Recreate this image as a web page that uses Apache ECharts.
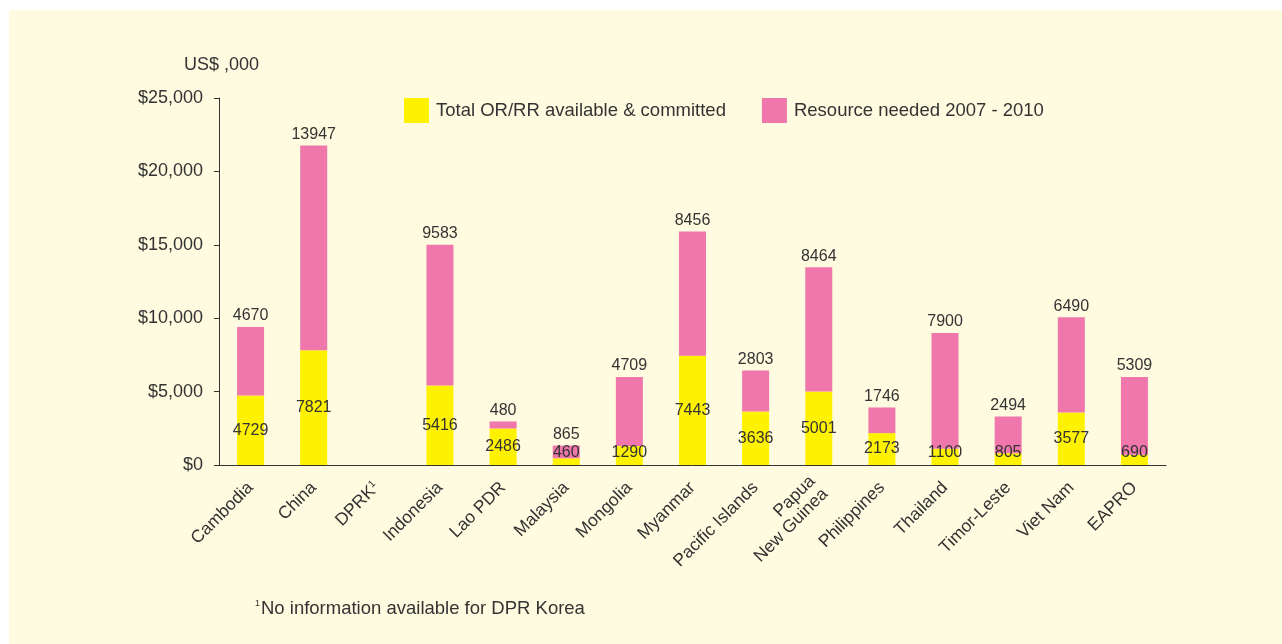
<!DOCTYPE html>
<html>
<head>
<meta charset="utf-8">
<script src="https://cdn.jsdelivr.net/npm/echarts@6/dist/echarts.min.js"></script>
<style>
  html, body { margin: 0; padding: 0; background: #ffffff; }
  #main { width: 1282px; height: 644px; }
</style>
</head>
<body>
<div id="main"></div>
<script>
// data
var countries = ["Cambodia", "China", "DPRK", "Indonesia", "Lao PDR", "Malaysia", "Mongolia",
  "Myanmar", "Pacific Islands", "Papua\nNew Guinea", "Philippines", "Thailand",
  "Timor-Leste", "Viet Nam", "EAPRO"];
var available = [4729, 7821, null, 5416, 2486, 460, 1290, 7443, 3636, 5001, 2173, 1100, 805, 3577, 690];
var needed = [4670, 13947, null, 9583, 480, 865, 4709, 8456, 2803, 8464, 1746, 7900, 2494, 6490, 5309];
var yTicks = [0, 5000, 10000, 15000, 20000, 25000];

var textColor = "#333333";
var font = "'Liberation Sans', Arial, sans-serif";

var myChart = echarts.init(document.getElementById("main"));

var option = {
  backgroundColor: "#ffffff",
  textStyle: { fontFamily: font, color: textColor },
  graphic: [
    {
      type: "rect",
      z: -10,
      silent: true,
      shape: { x: 9, y: 10, width: 1300, height: 700 },
      style: { fill: "#fffbe0" }
    }
  ],
  title: [
    {
      text: "US$ ,000",
      left: 179,
      top: 51,
      textStyle: { fontSize: 18, fontWeight: "normal", color: textColor, fontFamily: font }
    },
    {
      text: "{s|1}No information available for DPR Korea",
      left: 250,
      top: 594,
      textStyle: {
        fontSize: 18.5, fontWeight: "normal", color: textColor, fontFamily: font,
        rich: {
          s: { fontSize: 9, verticalAlign: "top", padding: [0, 1, 9, 0], color: textColor, fontFamily: font }
        }
      }
    }
  ],
  legend: {
    left: 399,
    top: 93,
    itemWidth: 25,
    itemHeight: 25,
    itemGap: 36,
    icon: "rect",
    textStyle: { fontSize: 18.5, color: textColor, fontFamily: font, padding: [0, 0, 0, 2] },
    data: ["Total OR/RR available & committed", "Resource needed 2007 - 2010"]
  },
  grid: { left: 219, right: 116, top: 98, bottom: 179, containLabel: false },
  xAxis: {
    type: "category",
    data: countries,
    axisLine: { lineStyle: { color: textColor, width: 1 } },
    axisTick: { interval: 0, length: 6, lineStyle: { color: textColor } },
    axisLabel: {
      interval: 0,
      rotate: 45,
      margin: 20,
      fontSize: 17.5,
      lineHeight: 18,
      color: textColor,
      fontFamily: font,
      formatter: function (v) {
        return v === "DPRK" ? "DPRK{s|1}" : v;
      },
      rich: {
        s: { fontSize: 10, verticalAlign: "top", padding: [0, 0, 8, 0], color: textColor, fontFamily: font }
      }
    }
  },
  yAxis: {
    type: "value",
    min: yTicks[0],
    max: yTicks[yTicks.length - 1],
    interval: yTicks[1] - yTicks[0],
    splitLine: { show: false },
    axisLine: { show: true, lineStyle: { color: textColor, width: 1 } },
    axisTick: { show: true, length: 5, lineStyle: { color: textColor } },
    axisLabel: {
      fontSize: 18,
      margin: 16,
      color: textColor,
      fontFamily: font,
      formatter: function (v) {
        return "$" + v.toLocaleString("en-US");
      }
    }
  },
  series: [
    {
      name: "Total OR/RR available & committed",
      type: "bar",
      stack: "total",
      barWidth: 27,
      itemStyle: { color: "#fff200" },
      label: { show: true, position: "inside", fontSize: 16, color: textColor, fontFamily: font },
      data: available.map(function (v) {
        if (v !== null && v < 1500) {
          return { value: v, label: { position: "insideBottom", distance: 4 } };
        }
        return v;
      })
    },
    {
      name: "Resource needed 2007 - 2010",
      type: "bar",
      stack: "total",
      barWidth: 27,
      itemStyle: { color: "#ef77ab" },
      label: { show: true, position: "top", distance: 3, fontSize: 16, color: textColor, fontFamily: font },
      data: needed
    }
  ]
};

myChart.setOption(option);
</script>
</body>
</html>
